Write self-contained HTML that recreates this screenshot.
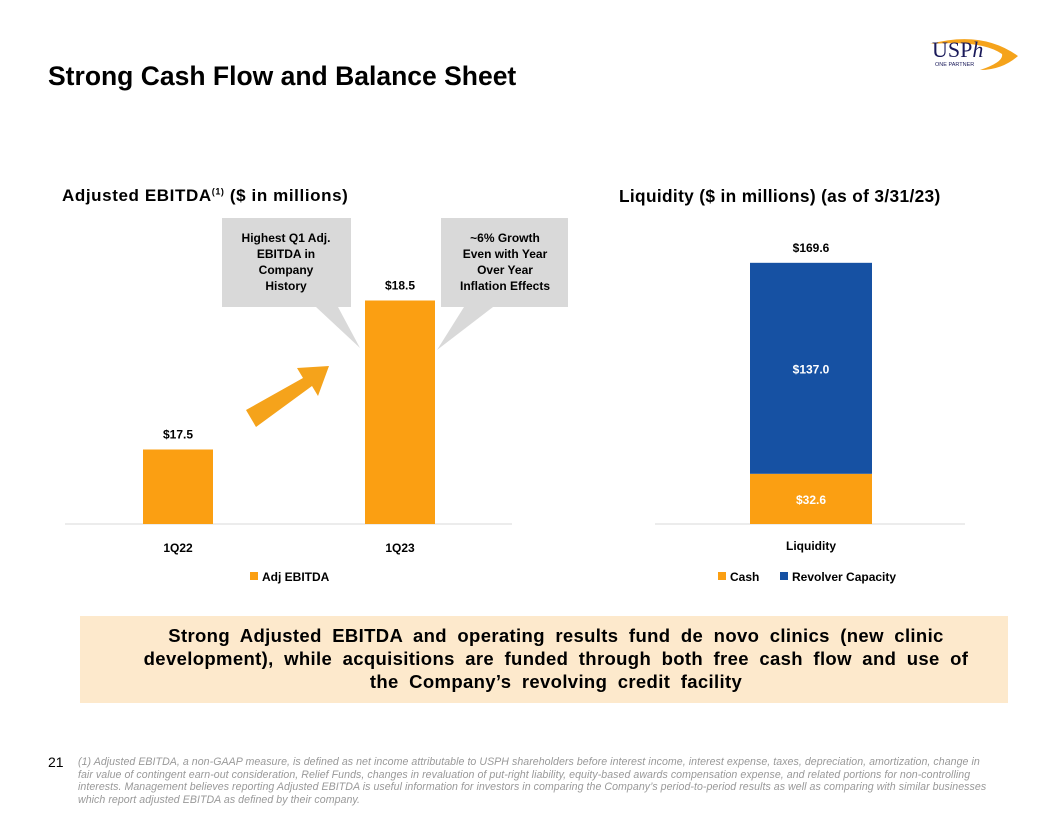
<!DOCTYPE html>
<html><head><meta charset="utf-8"><style>
body{margin:0;width:1056px;height:816px;background:#fff;font-family:"Liberation Sans",sans-serif;position:relative;overflow:hidden}
.a{position:absolute}
</style></head><body>
<div class="a" style="left:48px;top:61px;font-size:26.5px;font-weight:bold;color:#000;white-space:nowrap">Strong Cash Flow and Balance Sheet</div>
<div class="a" style="left:922px;top:26px;width:100px;height:46px">
<svg width="100" height="46"><path d="M8 18 Q60 4 96 30 Q80 44 58 44 Q82 36 80 28 Q60 14 8 18Z" fill="#f5a31b"/>
<text x="10" y="31" font-family="Liberation Serif" font-size="22" fill="#1a1a5a">USP<tspan font-style="italic">h</tspan></text>
<text x="13" y="40" font-size="5.5" fill="#1a1a5a">ONE PARTNER</text></svg></div>
<div class="a" style="left:62px;top:186px;font-size:17px;letter-spacing:0.6px;font-weight:bold;white-space:nowrap">Adjusted EBITDA<sup style="font-size:9px">(1)</sup> ($ in millions)</div>
<div class="a" style="left:619px;top:186px;font-size:17.3px;letter-spacing:0.35px;font-weight:bold;white-space:nowrap">Liquidity ($ in millions) (as of 3/31/23)</div>
<svg class="a" style="left:0;top:0" width="1056" height="816" id="ch" font-family="Liberation Sans, sans-serif"></svg>
<div class="a" style="left:80px;top:616px;width:928px;height:87px;background:#fde9cc;font-size:18.5px;letter-spacing:0.35px;word-spacing:5px;font-weight:bold;text-align:center;line-height:23px;box-sizing:border-box;padding:8px 22px 0 46px;white-space:nowrap">Strong Adjusted EBITDA and operating results fund de novo clinics (new clinic<br>development), while acquisitions are funded through both free cash flow and use of<br>the Company’s revolving credit facility</div>
<div class="a" style="left:48px;top:754px;font-size:14px">21</div>
<div class="a" style="left:78px;top:756px;width:930px;font-size:10.6px;letter-spacing:0.05px;font-style:italic;color:#999;line-height:12.5px;white-space:nowrap">(1) Adjusted EBITDA, a non-GAAP measure, is defined as net income attributable to USPH shareholders before interest income, interest expense, taxes, depreciation, amortization, change in<br>fair value of contingent earn-out consideration, Relief Funds, changes in revaluation of put-right liability, equity-based awards compensation expense, and related portions for non-controlling<br>interests. Management believes reporting Adjusted EBITDA is useful information for investors in comparing the Company’s period-to-period results as well as comparing with similar businesses<br>which report adjusted EBITDA as defined by their company.</div>
<script>
const ebitdaCats=["1Q22","1Q23"];
const ebitdaVals=[17.5,18.5];
const liqCash=[32.6];
const liqRevolver=[137.0];
const liqCats=["Liquidity"];
const NS="http://www.w3.org/2000/svg";
const svg=document.getElementById('ch');
function mk(t,a,txt){const e=document.createElementNS(NS,t);for(const k in a)e.setAttribute(k,a[k]);if(txt!=null)e.textContent=txt;svg.appendChild(e);return e;}
const base=524;
const yL=v=>base-(v-17)*149;
const xL=i=>178+i*222;
let e=mk('line',{x1:65,x2:512,y1:base,y2:base,stroke:'#d9d9d9'});

ebitdaVals.forEach((v,i)=>{
 let b=mk('rect',{x:xL(i)-35,y:yL(v),width:70,height:base-yL(v),fill:'#fb9f12'});
 
 let l=mk('text',{x:xL(i),y:yL(v)-11,'text-anchor':'middle','font-size':12,'font-weight':'bold'},'$'+v.toFixed(1));
 
 let c=mk('text',{x:xL(i),y:552,'text-anchor':'middle','font-size':12,'font-weight':'bold'},ebitdaCats[i]);
 
});
e=mk('rect',{x:250,y:572,width:8,height:8,fill:'#fb9f12'});
e=mk('text',{x:262,y:581,'font-size':12,'font-weight':'bold'},'Adj EBITDA');
e=mk('path',{d:'M222 218H351V307H338L360 348L316 307H222Z',fill:'#d9d9d9'});
e=mk('path',{d:'M441 218H568V307H493L437 350L464 307H441Z',fill:'#d9d9d9'});
[["Highest Q1 Adj.",242],["EBITDA  in",258],["Company",274],["History",290]].forEach(([t,y])=>{e=mk('text',{x:286,y:y,'text-anchor':'middle','font-size':12,'font-weight':'bold'},t);});
[["~6%  Growth",242],["Even with Year",258],["Over Year",274],["Inflation Effects",290]].forEach(([t,y])=>{e=mk('text',{x:505,y:y,'text-anchor':'middle','font-size':12,'font-weight':'bold'},t);});
e=mk('path',{d:'M246 410L303 378L297 368L329 366L318 396L312 386L256 427Z',fill:'#f5a31b'});
const yR=v=>base-v*1.54;
const xR=i=>811;
e=mk('line',{x1:655,x2:965,y1:base,y2:base,stroke:'#d9d9d9'});
liqCats.forEach((c,i)=>{
 const cash=liqCash[i],rev=liqRevolver[i],tot=cash+rev;
 let b=mk('rect',{x:xR(i)-61,y:yR(cash),width:122,height:base-yR(cash),fill:'#fb9f12'});
 b=mk('rect',{x:xR(i)-61,y:yR(tot),width:122,height:yR(cash)-yR(tot),fill:'#1651a3'});
 let t=mk('text',{x:xR(i),y:(yR(cash)+base)/2+5,'text-anchor':'middle','font-size':12,'font-weight':'bold',fill:'#fff'},'$'+cash.toFixed(1));
 t=mk('text',{x:xR(i),y:(yR(cash)+yR(tot))/2+5,'text-anchor':'middle','font-size':12,'font-weight':'bold',fill:'#fff'},'$'+rev.toFixed(1));
 t=mk('text',{x:xR(i),y:yR(tot)-11,'text-anchor':'middle','font-size':12,'font-weight':'bold'},'$'+tot.toFixed(1));
 t=mk('text',{x:xR(i),y:550,'text-anchor':'middle','font-size':12,'font-weight':'bold'},c);
});
e=mk('rect',{x:718,y:572,width:8,height:8,fill:'#fb9f12'});
e=mk('text',{x:730,y:581,'font-size':12,'font-weight':'bold'},'Cash');
e=mk('rect',{x:780,y:572,width:8,height:8,fill:'#1651a3'});
e=mk('text',{x:792,y:581,'font-size':12,'font-weight':'bold'},'Revolver Capacity');
</script>
</body></html>
